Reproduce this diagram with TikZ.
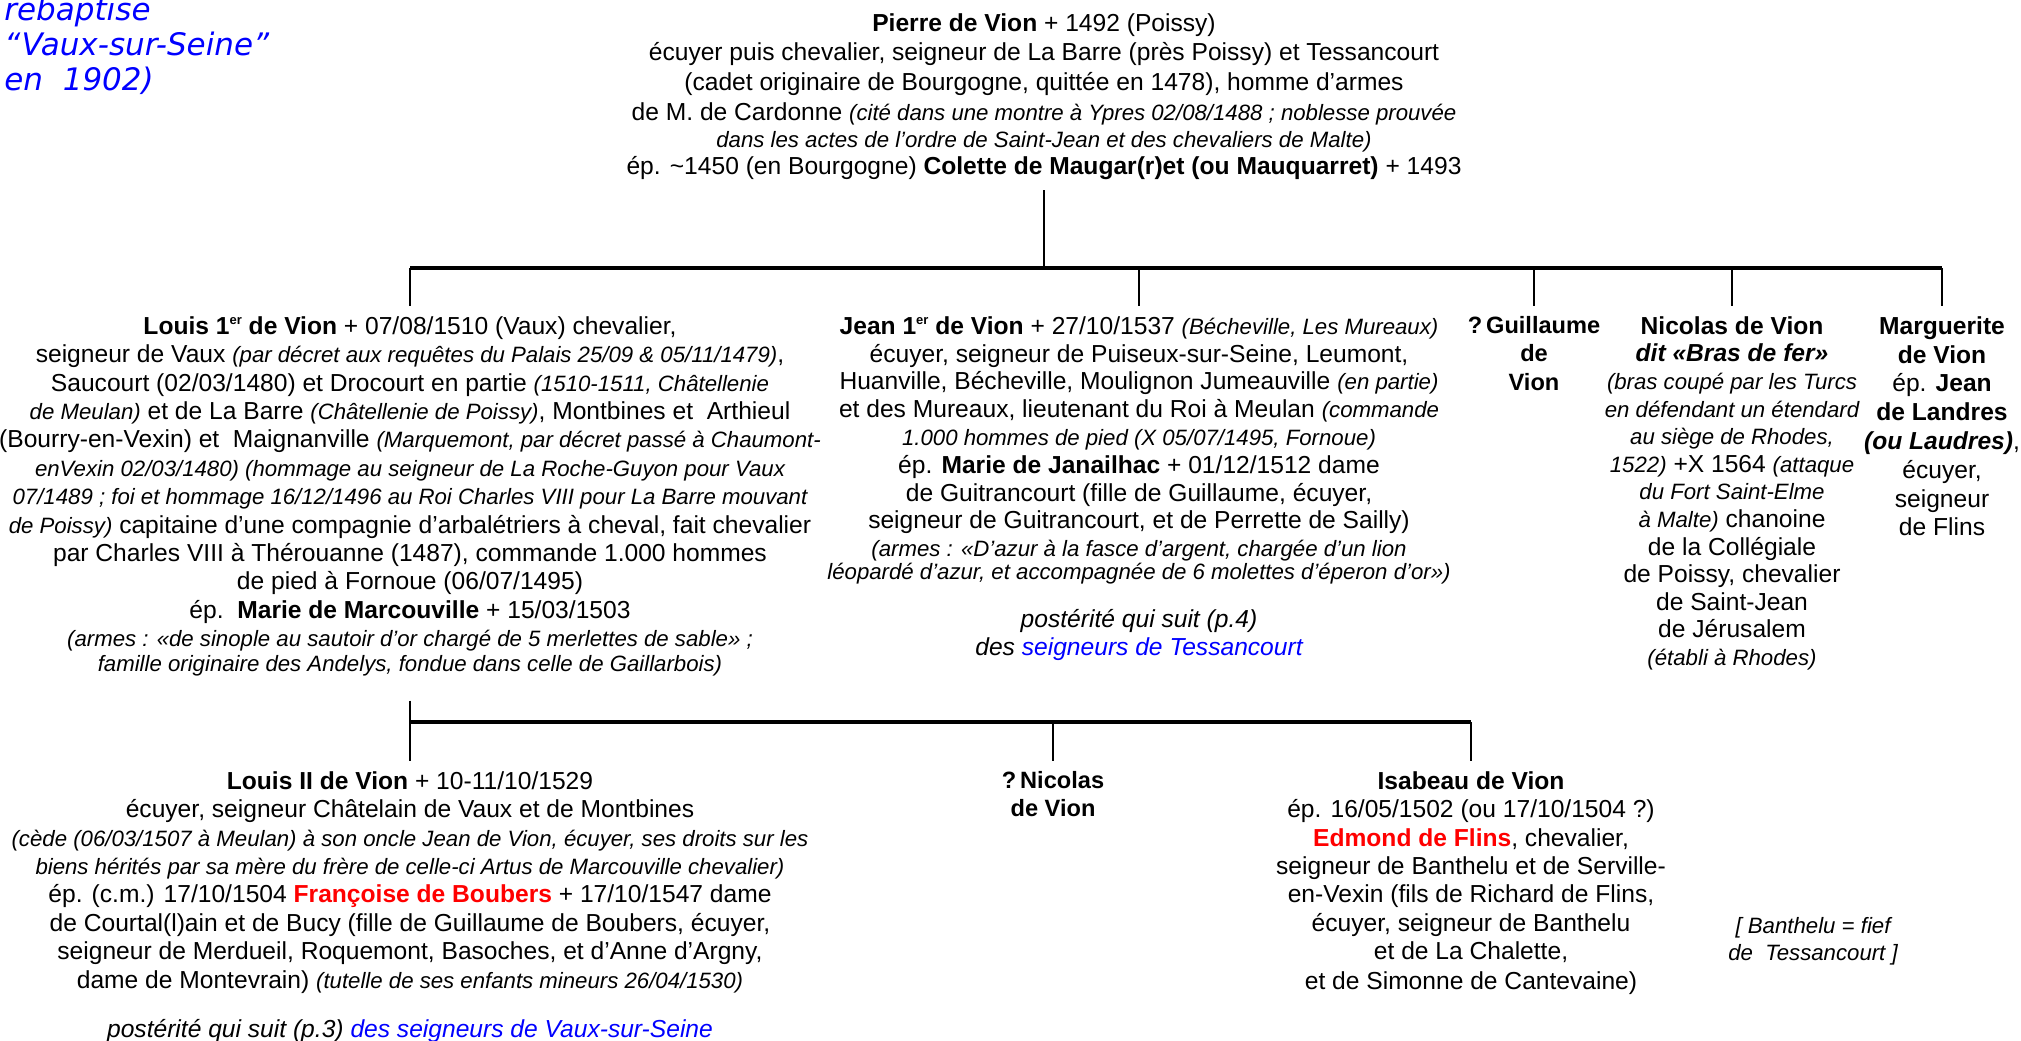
\documentclass[tikz,border=0pt]{standalone}
\usepackage{fontspec}
\setmainfont{Liberation Sans}
\newfontfamily\verdanafont[ItalicFont = {DejaVu Sans Oblique}]{DejaVu Sans}
\usepackage{tikz}
\tikzset{person/.style = {align = center, anchor = north, inner xsep = 0, inner ysep = 5pt, font = \fontsize{12.3}{14.2}\selectfont}}
\tikzset{link/.style = {line width = 0.75pt}}
\tikzset{bar/.style = {line width = 1.6pt}}
\newcommand{\ital}[1]{{\fontsize{11.1}{13}\selectfont\itshape #1}}
\newcommand{\ordinal}[1]{\raisebox{0.75ex}{\fontsize{6.5}{6.5}\selectfont #1}}

\begin{document}
\begin{tikzpicture}[x = 0.5pt, y = -0.5pt]
  \useasboundingbox (0, 0) rectangle (2021, 1040);
  \node [anchor = north west, inner sep = 0, align = left, text = blue, font = \verdanafont\itshape\fontsize{15.5}{17.5}\selectfont] (rebaptise) at (4, -3) {rebaptise\\“Vaux-sur-Seine”\\en\ \ 1902)};
  % first generation
  \node [person, font = \fontsize{12.3}{14.8}\selectfont] (pierre) at (1044, 3) {\textbf{Pierre de Vion} + 1492 (Poissy)\\
    écuyer puis chevalier, seigneur de La Barre (près Poissy) et Tessancourt\\
    (cadet originaire de Bourgogne, quittée en 1478), homme d’armes\\
    de M. de Cardonne \ital{(cité dans une montre à Ypres 02/08/1488 ; noblesse prouvée}\\[-1.1pt]
    \ital{dans les actes de l’ordre de Saint-Jean et des chevaliers de Malte)}\\[-1.1pt]
    ép. \textasciitilde1450 (en Bourgogne) \textbf{Colette de Maugar(r)et (ou Mauquarret)} + 1493};
  \node [person] (louis) at (410, 306) {\textbf{Louis 1\ordinal{er} de Vion} + 07/08/1510 (Vaux) chevalier,\\
    seigneur de Vaux \ital{(par décret aux requêtes du Palais 25/09 \& 05/11/1479)},\\
    Saucourt (02/03/1480) et Drocourt en partie \ital{(1510-1511, Châtellenie}\\
    \ital{de Meulan)} et de La Barre \ital{(Châtellenie de Poissy)}, Montbines et\ \ Arthieul\\
    (Bourry-en-Vexin) et\ \ Maignanville \ital{(Marquemont, par décret passé à Chaumont-}\\
    \ital{enVexin 02/03/1480) (hommage au seigneur de La Roche-Guyon pour Vaux}\\
    \ital{07/1489 ; foi et hommage 16/12/1496 au Roi Charles VIII pour La Barre mouvant}\\
    \ital{de Poissy)} capitaine d’une compagnie d’arbalétriers à cheval, fait chevalier\\
    par Charles VIII à Thérouanne (1487), commande 1.000 hommes\\
    de pied à Fornoue (06/07/1495)\\
    ép.\ \ \textbf{Marie de Marcouville} + 15/03/1503\\
    \ital{(armes : «de sinople au sautoir d’or chargé de 5 merlettes de sable» ;}\\[-1.7pt]
    \ital{famille originaire des Andelys, fondue dans celle de Gaillarbois)}};
  \node [person, font = \fontsize{12.3}{13.9}\selectfont] (jean) at (1139, 306) {\textbf{Jean 1\ordinal{er} de Vion} + 27/10/1537 \ital{(Bécheville, Les Mureaux)}\\
    écuyer, seigneur de Puiseux-sur-Seine, Leumont,\\
    Huanville, Bécheville, Moulignon Jumeauville \ital{(en partie)}\\
    et des Mureaux, lieutenant du Roi à Meulan \ital{(commande}\\
    \ital{1.000 hommes de pied (X 05/07/1495, Fornoue)}\\
    ép. \textbf{Marie de Janailhac} + 01/12/1512 dame\\
    de Guitrancourt (fille de Guillaume, écuyer,\\
    seigneur de Guitrancourt, et de Perrette de Sailly)\\
    \ital{(armes : «D’azur à la fasce d’argent, chargée d’un lion}\\[-2.4pt]
    \ital{léopardé d’azur, et accompagnée de 6 molettes d’éperon d’or»)}\\[10pt]
    \textit{postérité qui suit (p.4)}\\
    \textit{des \textcolor{blue}{seigneurs de Tessancourt}}};
  \node [person, font = \bfseries\fontsize{11.8}{14.2}\selectfont] (guillaume) at (1534, 306) {?\,Guillaume\\de\\Vion};
  \node [person, font = \fontsize{12.3}{13.8}\selectfont] (nicolas) at (1732, 306) {\textbf{Nicolas de Vion}\\
    \textbf{\textit{dit «Bras de fer»}}\\
    \ital{(bras coupé par les Turcs}\\
    \ital{en défendant un étendard}\\
    \ital{au siège de Rhodes,}\\
    \ital{1522)} +X 1564 \ital{(attaque}\\
    \ital{du Fort Saint-Elme}\\
    \ital{à Malte)} chanoine\\
    de la Collégiale\\
    de Poissy, chevalier\\
    de Saint-Jean\\
    de Jérusalem\\
    \ital{(établi à Rhodes)}};
  \node [person, font = \fontsize{12.3}{14.4}\selectfont] (marguerite) at (1942, 306) {\textbf{Marguerite}\\
    \textbf{de Vion}\\
    ép. \textbf{Jean}\\
    \textbf{de Landres}\\
    \textbf{\textit{(ou Laudres)}},\\
    écuyer,\\
    seigneur\\
    de Flins};
  % second generation
  \node [person] (louisii) at (410, 761) {\textbf{Louis II de Vion} + 10-11/10/1529\\
    écuyer, seigneur Châtelain de Vaux et de Montbines\\
    \ital{(cède (06/03/1507 à Meulan) à son oncle Jean de Vion, écuyer, ses droits sur les}\\
    \ital{biens hérités par sa mère du frère de celle-ci Artus de Marcouville chevalier)}\\
    ép. (c.m.) 17/10/1504 \textcolor{red}{\textbf{Françoise de Boubers}} + 17/10/1547 dame\\
    de Courtal(l)ain et de Bucy (fille de Guillaume de Boubers, écuyer,\\
    seigneur de Merdueil, Roquemont, Basoches, et d’Anne d’Argny,\\
    dame de Montevrain) \ital{(tutelle de ses enfants mineurs 26/04/1530)}\\[10.3pt]
    \textit{postérité qui suit (p.3) \textcolor{blue}{des seigneurs de Vaux-sur-Seine}}};
  \node [person, font = \bfseries\fontsize{11.8}{14.2}\selectfont] (nicolasii) at (1053, 761) {?\,Nicolas\\de Vion};
  \node [person, font = \fontsize{12.3}{14.2}\selectfont] (isabeau) at (1471, 761) {\textbf{Isabeau de Vion}\\
    ép. 16/05/1502 (ou 17/10/1504 ?)\\
    \textcolor{red}{\textbf{Edmond de Flins}}, chevalier,\\
    seigneur de Banthelu et de Serville-\\
    en-Vexin (fils de Richard de Flins,\\
    écuyer, seigneur de Banthelu\\
    et de La Chalette,\\[0.8pt]
    et de Simonne de Cantevaine)};
  \node [person, font = \itshape\fontsize{11.1}{13.5}\selectfont] (banthelu) at (1813, 907) {[ Banthelu = fief\\de\ \ Tessancourt ]};
  % lines
  \coordinate (bar1) at (1044, 268);
  \coordinate (bar2) at (410, 722);
  \draw [link] (pierre.south) -- (bar1);
  \draw [bar] (bar1 -| louis.north) -- (bar1 -| marguerite.north);
  \foreach \child in {louis, jean, guillaume, nicolas, marguerite}
    \draw [link] (bar1 -| \child.north) -- (\child.north);
  \draw [link] ([yshift = -7pt] louis.south) -- (louisii.north);
  \draw [bar] (bar2) -- (bar2 -| isabeau.north);
  \foreach \child in {nicolasii, isabeau}
    \draw [link] (bar2 -| \child.north) -- (\child.north);
\end{tikzpicture}
\end{document}
